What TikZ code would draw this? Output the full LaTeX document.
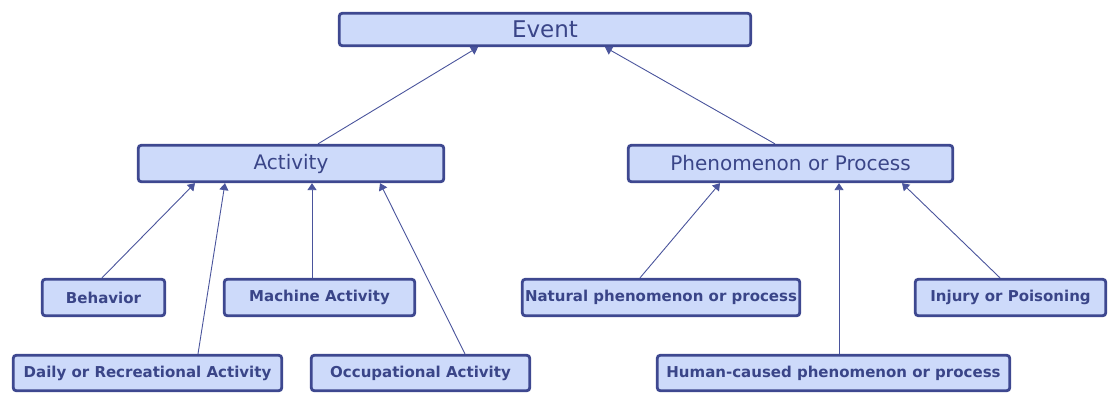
\documentclass[tikz,border=0pt]{standalone}
\usepackage{fontspec}
\setmainfont{DejaVu Sans}
\usetikzlibrary{arrows.meta}
\definecolor{boxfill}{HTML}{CDDAFA}
\definecolor{boxdraw}{HTML}{3E4890}
\definecolor{txt}{HTML}{3A4588}
\definecolor{conncol}{HTML}{4A549C}
\begin{document}
\begin{tikzpicture}[x=1pt,y=-1pt,
  box/.style={draw=boxdraw,fill=boxfill,line width=2.8pt,rounded corners=3pt,
    inner sep=0pt,text=txt,minimum height=#1},
  box/.default=36.5pt,
  big/.style={box=36.5pt,font=\fontsize{20}{22}\selectfont},
  small/.style={box=36.5pt,font=\fontsize{15}{17}\selectfont\bfseries},
  conn/.style={draw=conncol,line width=0.9pt,-{Triangle[width=9pt,length=7pt]}}]
\useasboundingbox (0,0) rectangle (1108,394);
\node[box=32.5pt,font=\fontsize{23}{25}\selectfont,minimum width=411.5pt] (ev) at (545,29.5) {Event};
\node[big,minimum width=305.5pt] (act) at (291,163.5) {Activity};
\node[big,minimum width=324.5pt] (phe) at (790.5,163.5) {Phenomenon or Process};
\node[small,minimum width=122.5pt] (beh) at (103.5,297.5) {Behavior};
\node[small,minimum width=190.5pt] (mac) at (319.5,297.5) {Machine Activity};
\node[small,minimum width=268.5pt,minimum height=35.5pt] (dai) at (147.5,373) {Daily or Recreational Activity};
\node[small,minimum width=218.5pt,minimum height=35.5pt] (occ) at (420.5,373) {Occupational Activity};
\node[small,minimum width=277.5pt] (nat) at (661,297.5) {Natural phenomenon or process};
\node[small,minimum width=190.5pt] (inj) at (1010.5,297.5) {Injury or Poisoning};
\node[small,minimum width=352.5pt,minimum height=35.5pt] (hum) at (833.5,373) {Human-caused phenomenon or process};
\draw[conn] ([xshift=27pt]act.north) -- ([xshift=-67pt]ev.south);
\draw[conn] ([xshift=-15.5pt]phe.north) -- ([xshift=60pt]ev.south);
\draw[conn] ([xshift=-1.5pt]beh.north) -- ([xshift=-96pt]act.south);
\draw[conn] ([xshift=50.5pt]dai.north) -- ([xshift=-66pt]act.south);
\draw[conn] ([xshift=-7.5pt]mac.north) -- ([xshift=21pt]act.south);
\draw[conn] ([xshift=44.5pt]occ.north) -- ([xshift=89pt]act.south);
\draw[conn] ([xshift=-21pt]nat.north) -- ([xshift=-70.5pt]phe.south);
\draw[conn] ([xshift=5.5pt]hum.north) -- ([xshift=48.5pt]phe.south);
\draw[conn] ([xshift=-10.5pt]inj.north) -- ([xshift=111.5pt]phe.south);
\end{tikzpicture}
\end{document}
